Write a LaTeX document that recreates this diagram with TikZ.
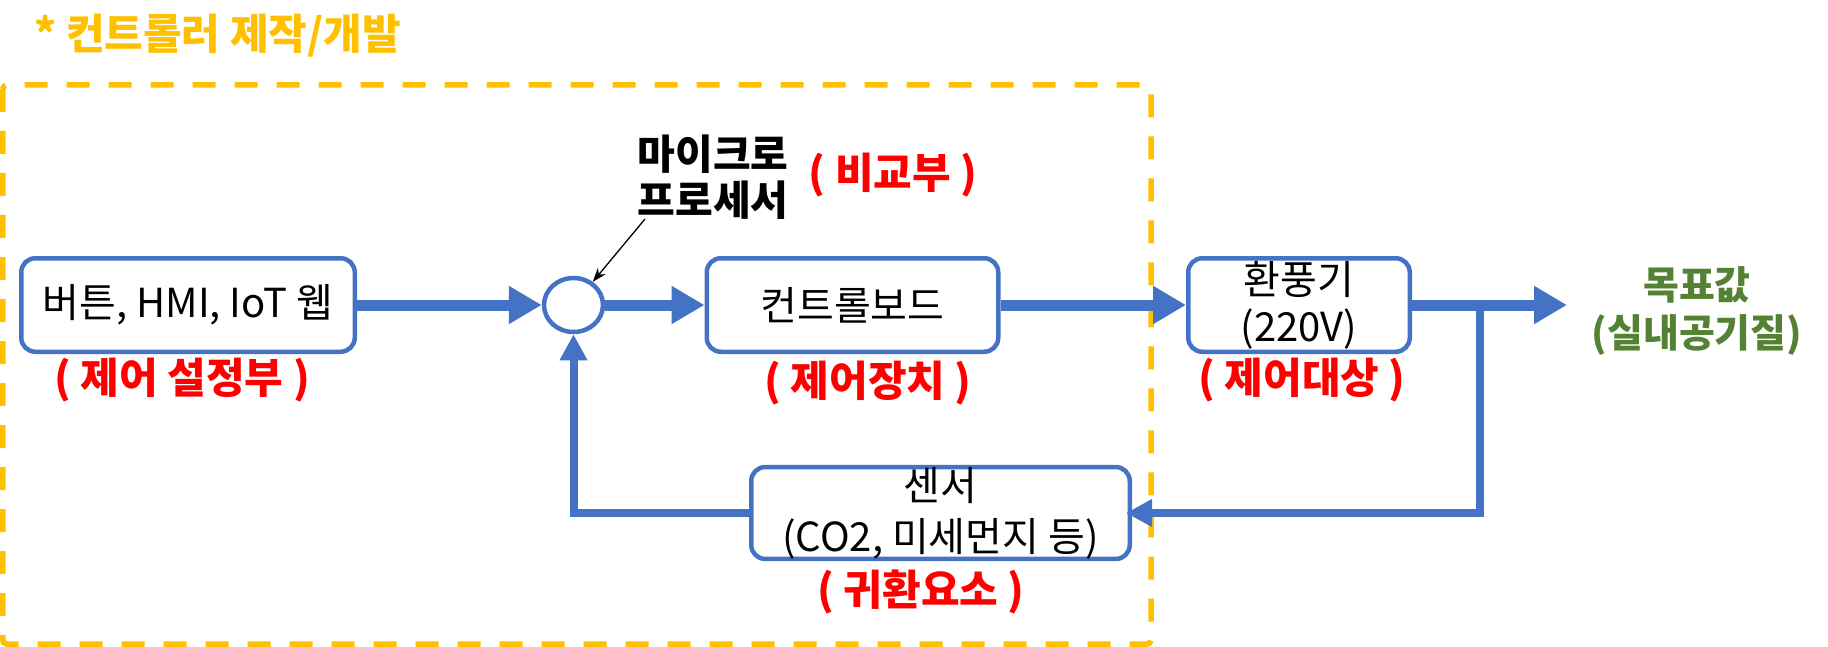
\documentclass[tikz,border=0pt]{standalone}
\usepackage{fontspec}
\setmainfont{Noto Sans CJK KR}
\usetikzlibrary{arrows.meta,shapes.geometric}
\definecolor{cblue}{HTML}{4472C4}
\definecolor{cgold}{HTML}{FFC000}
\definecolor{cred}{HTML}{FF0000}
\definecolor{cgreen}{HTML}{548235}
\begin{document}
\begin{tikzpicture}[x=1pt,y=-1pt,
  box/.style={draw=cblue, line width=4.5pt, rounded corners=14pt, fill=white,
    minimum height=93.5pt, inner sep=0pt, align=center,
    font=\fontsize{40}{47}\selectfont},
  lbl/.style={text=cred, font=\fontsize{42}{46}\selectfont\bfseries, inner sep=0pt},
  mainarrow/.style={draw=cblue, line width=11pt, -{Triangle[length=33pt,width=36pt]}},
  fbarrow/.style={draw=cblue, line width=8pt, -{Triangle[length=26pt,width=26pt]}},
]
\useasboundingbox (0,0) rectangle (1828,647);

% title and dashed frame
\node[anchor=west, text=cgold, inner sep=0pt, font=\fontsize{42}{46}\selectfont\bfseries] (title) at (34,36) {* 컨트롤러 제작/개발};
\draw[cgold, line width=5.5pt, dash pattern=on 23pt off 19pt, rounded corners=4pt] (2.75,85) rectangle (1151,644);

% blocks
\node[box, minimum width=333.5pt] (b1) at (188,305) {버튼, HMI, IoT 웹};
\node[draw=cblue, line width=4.5pt, ellipse, fill=white, minimum width=59pt, minimum height=54pt, inner sep=0pt] (cmp) at (573.5,305) {};
\node[box, minimum width=291.5pt] (b2) at (852.5,305) {컨트롤보드};
\node[box, minimum width=221.5pt] (b3) at (1299,305) {환풍기\\(220V)};
\node[box, minimum width=378.5pt, minimum height=91.5pt, font=\fontsize{40}{51}\selectfont] (sensor) at (940.5,513) {센서\\(CO2, 미세먼지 등)};

% labels
\node[lbl] (l1) at (182,380) {( 제어 설정부 )};
\node[lbl] (l2) at (868,383) {( 제어장치 )};
\node[lbl] (l3) at (1302,380) {( 제어대상 )};
\node[lbl] (l4) at (921,592) {( 귀환요소 )};
\node[lbl] (l5) at (893,175) {( 비교부 )};
\node[inner sep=0pt, align=center, font=\fontsize{41}{46}\selectfont\bfseries] (mpu) at (713,177) {마이크로\\프로세서};
\node[inner sep=0pt, align=center, text=cgreen, font=\fontsize{39}{48}\selectfont\bfseries] (goal) at (1697,311) {목표값\\(실내공기질)};

% connectors
\coordinate (split) at (1480,305);
\coordinate (goalin) at (1567,305);
\coordinate (mptail) at (645,219);
\draw[fbarrow, shorten >=-6pt] (split) |- (sensor.east);
\draw[fbarrow] (sensor.west) -| (cmp.south);
\draw[mainarrow] (b1.east) -- (cmp.west);
\draw[mainarrow] (cmp.east) -- (b2.west);
\draw[mainarrow] (b2.east) -- (b3.west);
\draw[mainarrow] (b3.east) -- (goalin);
\draw[line width=1.3pt, -{Stealth[length=14pt,width=10pt]}] (mptail) -- (cmp);
\end{tikzpicture}
\end{document}
